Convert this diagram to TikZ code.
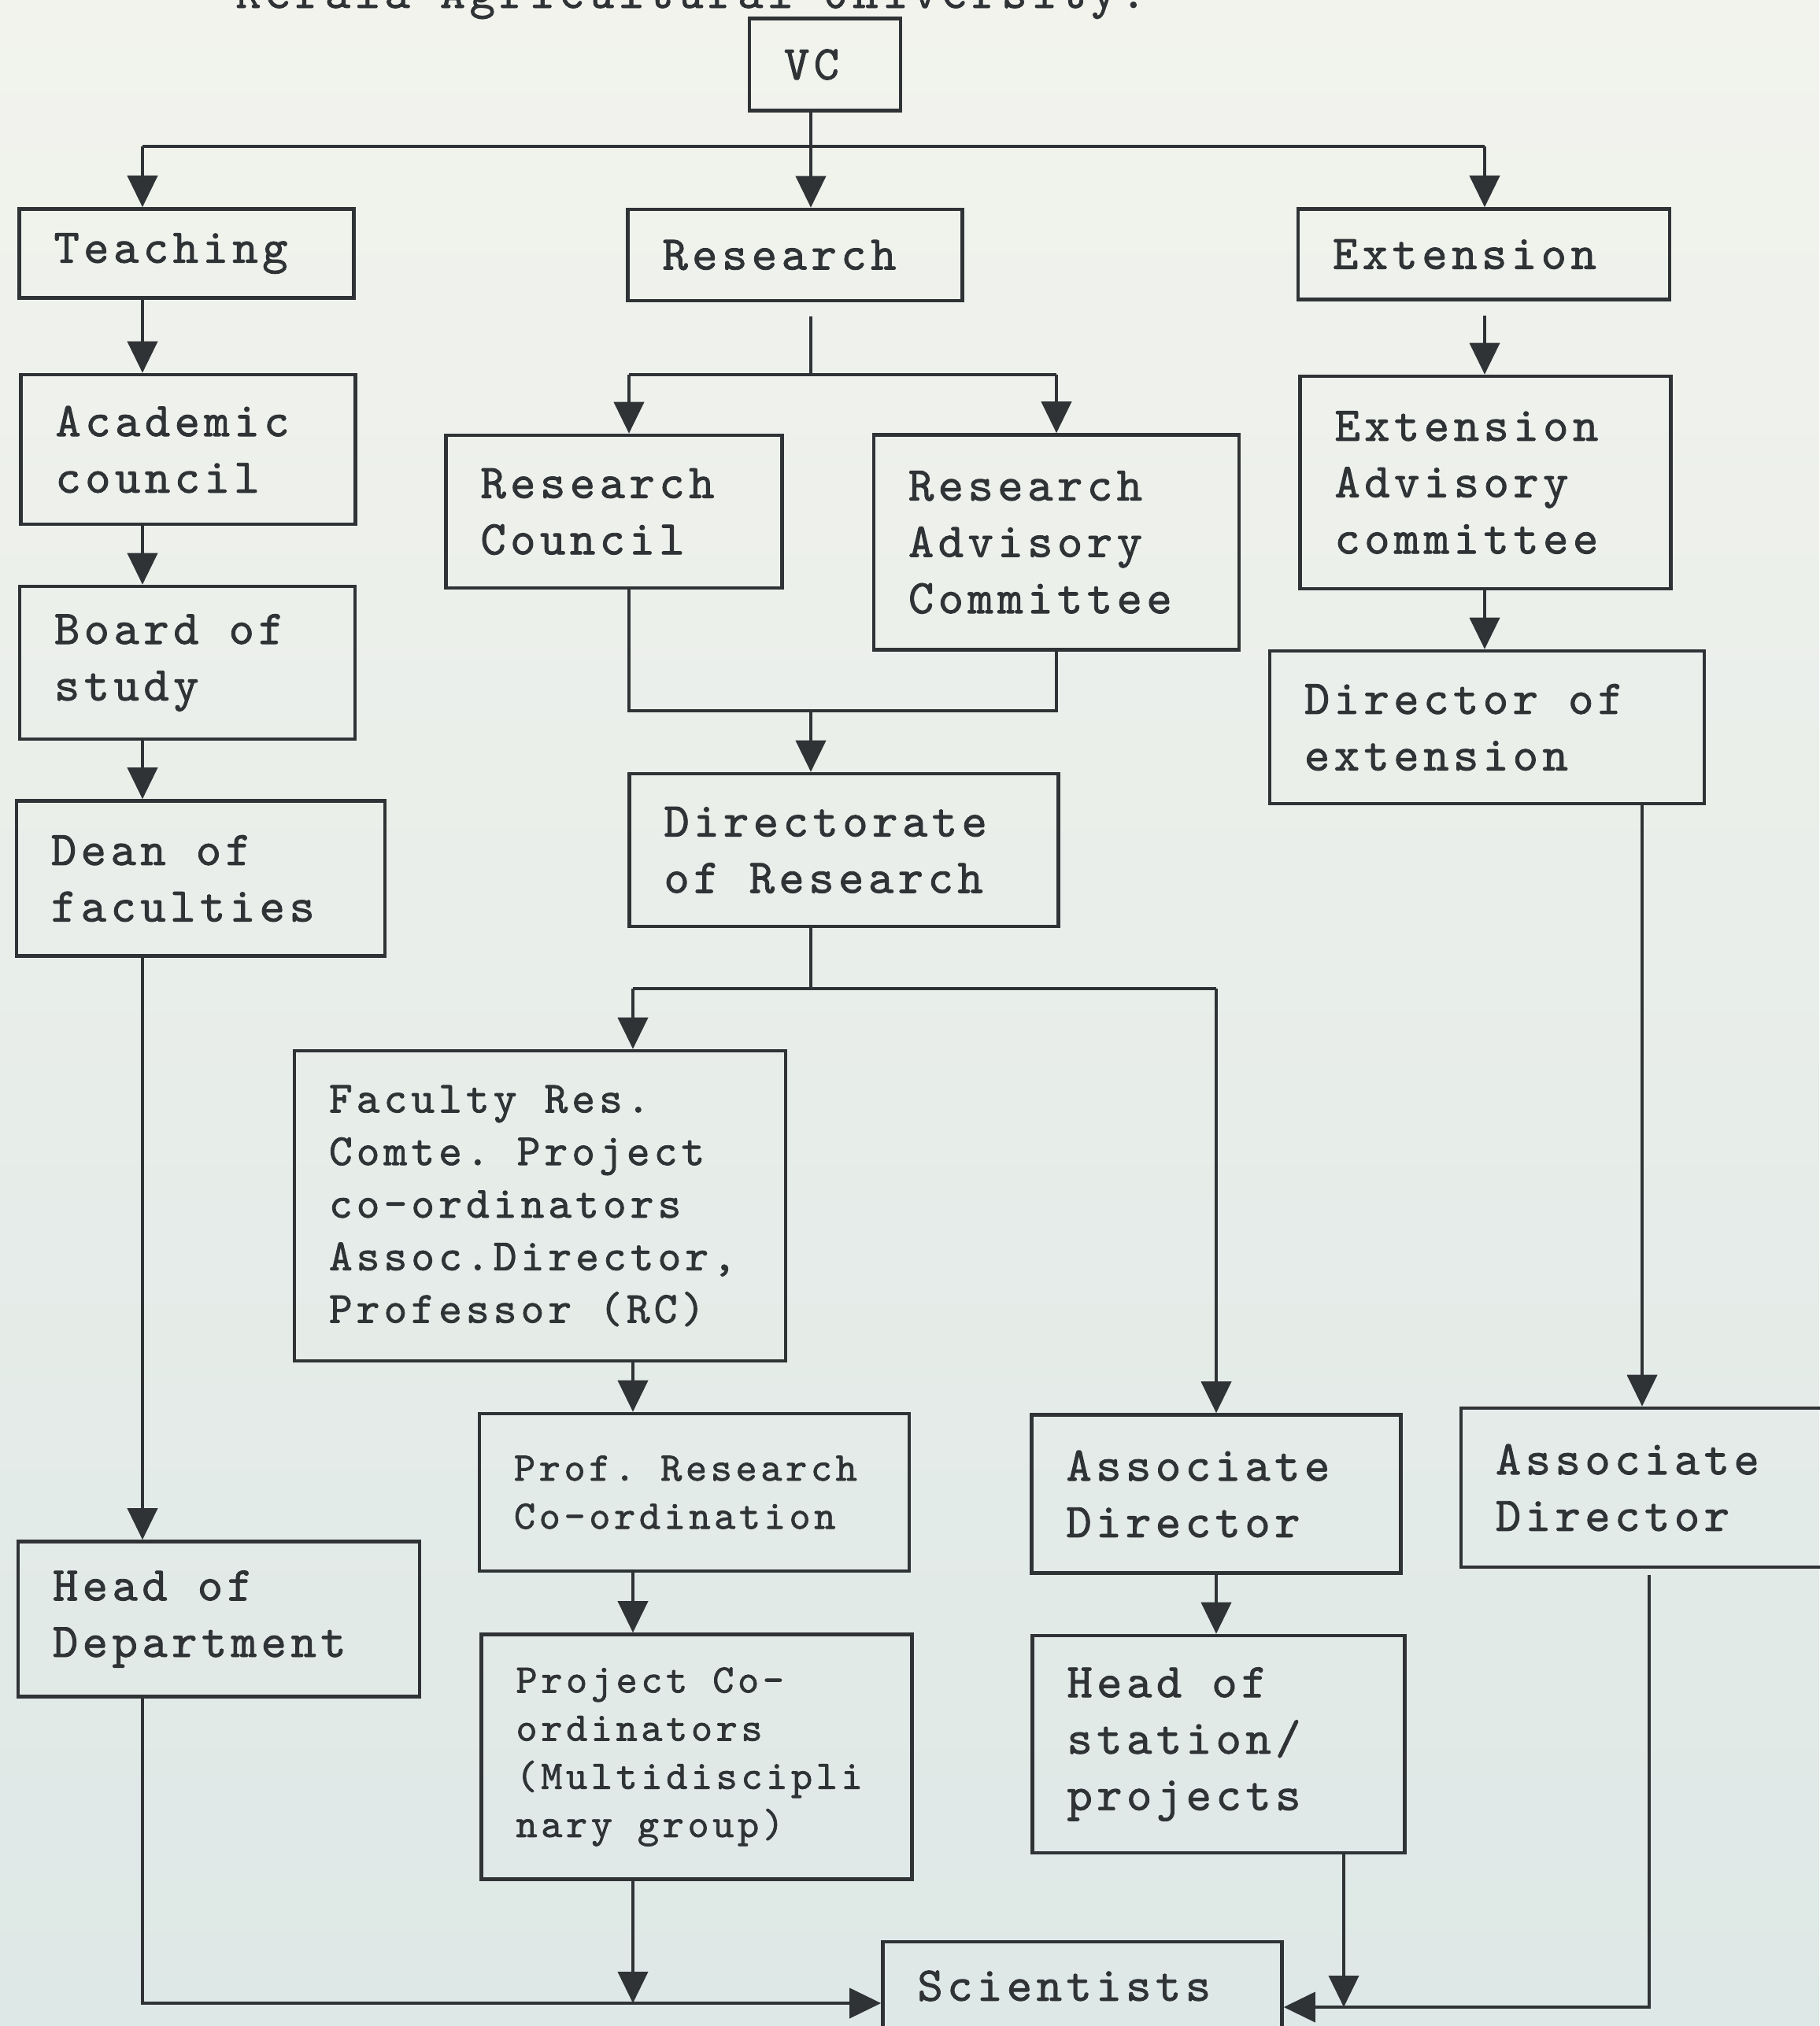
\documentclass[tikz,border=0pt]{standalone}
\usepackage{fontspec}
\newfontfamily\kauMono{lmmono10-regular.otf}[LetterSpace=9,FakeBold=1.4]
\newcommand\kauSp{\kern0.62em\relax}
\usetikzlibrary{arrows.meta}
\definecolor{kauInk}{RGB}{48,51,54}
\definecolor{kauPaperTop}{RGB}{242,243,237}
\definecolor{kauPaperBot}{RGB}{222,232,230}

\begin{document}
\begin{tikzpicture}
\tikzset{
    kauBox/.style={draw=kauInk,line width=1.3pt,rectangle,inner xsep=0.44cm,inner ysep=0pt,
        align=left,text=kauInk,font=\kauMono\fontsize{17.5}{20.4}\selectfont},
    kauSmall/.style={font=\kauMono\fontsize{16.1}{19}\selectfont},
    kauTiny/.style={font=\kauMono\fontsize{14.7}{17.4}\selectfont},
    kauLine/.style={draw=kauInk,line width=1.1pt},
    kauArrow/.style={kauLine,-{Triangle[length=0.40cm,width=0.38cm]}}
}
% paper
\shade[top color=kauPaperTop,bottom color=kauPaperBot] (0,0) rectangle (23.11,-25.74);
\useasboundingbox (0,0) rectangle (23.11,-25.74);

\node[anchor=base west,text=kauInk,font=\kauMono\fontsize{17.5}{20}\selectfont] (kauTitle) at (2.87,-0.10)
    {Kerala\kauSp Agricultural\kauSp University.};

% columns and rows of the connectors
\coordinate (colT) at (1.81,0);    % teaching
\coordinate (colR) at (10.30,0);   % research stem
\coordinate (colRC) at (7.99,0);   % research council
\coordinate (colRAC) at (13.42,0); % advisory committee
\coordinate (colF) at (8.04,0);    % faculty chain
\coordinate (colA) at (15.45,0);   % associate director
\coordinate (colH) at (17.07,0);   % head of station
\coordinate (colE) at (18.86,0);   % extension
\coordinate (colD) at (20.86,0);   % director of extension
\coordinate (colD2) at (20.95,0);  % right associate director
\coordinate (rowVC) at (0,-1.86);
\coordinate (rowRes) at (0,-4.76);
\coordinate (rowMerge) at (0,-9.03);
\coordinate (rowDir) at (0,-12.56);
\coordinate (rowBotL) at (0,-25.45);
\coordinate (rowBotR) at (0,-25.50);

% boxes
\node[kauBox,text width=1.04cm,minimum height=1.17cm] (VC) at (10.48,-0.82) {VC};
\node[kauBox,text width=3.37cm,minimum height=1.13cm] (Teaching) at (2.37,-3.22) {Teaching};
\node[kauBox,text width=3.37cm,minimum height=1.16cm] (Research) at (10.10,-3.24) {Research};
\node[kauBox,text width=3.84cm,minimum height=1.15cm] (Extension) at (18.85,-3.23) {Extension};
\node[kauBox,text width=3.37cm,minimum height=1.90cm] (Academic) at (2.39,-5.71) {Academic\\council};
\node[kauBox,text width=3.39cm,minimum height=1.94cm] (RC) at (7.80,-6.50) {Research\\Council};
\node[kauBox,text width=3.76cm,minimum height=2.73cm] (RAC) at (13.42,-6.89) {Research\\Advisory\\Committee};
\node[kauBox,text width=3.83cm,minimum height=2.70cm] (EAC) at (18.87,-6.13) {Extension\\Advisory\\committee};
\node[kauBox,text width=3.38cm,minimum height=1.94cm] (Board) at (2.38,-8.42) {Board\kauSp of\\study};
\node[kauBox,text width=4.64cm,minimum height=1.94cm] (DirExt) at (18.89,-9.24) {Director\kauSp of\\extension};
\node[kauBox,text width=3.80cm,minimum height=1.97cm] (Dean) at (2.55,-11.16) {Dean\kauSp of\\faculties};
\node[kauBox,text width=4.57cm,minimum height=1.94cm] (Directorate) at (10.72,-10.80) {Directorate\\of\kauSp Research};
\node[kauBox,kauSmall,text width=5.36cm,minimum height=3.94cm] (Faculty) at (6.86,-15.32)
    {Faculty\kauSp Res.\\Comte.\kauSp Project\\co-ordinators\\Assoc.Director,\\Professor\kauSp (RC)};
\node[kauBox,kauTiny,text width=4.58cm,minimum height=2.00cm] (Prof) at (8.82,-18.96) {Prof.\kauSp Research\\Co-ordination};
\node[kauBox,text width=3.81cm,minimum height=2.01cm] (AssocMid) at (15.45,-18.98) {Associate\\Director};
\node[kauBox,text width=3.96cm,minimum height=2.02cm] (AssocRight) at (20.98,-18.90) {Associate\\Director};
\node[kauBox,text width=4.22cm,minimum height=1.97cm] (HoD) at (2.78,-20.57) {Head\kauSp of\\Department};
\node[kauBox,kauTiny,text width=4.59cm,minimum height=3.11cm] (Project) at (8.85,-22.32)
    {Project\kauSp Co-\\ordinators\\(Multidiscipli\\nary\kauSp group)};
\node[kauBox,text width=3.85cm,minimum height=2.76cm] (HeadStation) at (15.48,-22.16) {Head\kauSp of\\station/\\projects};
\node[kauBox,text width=4.19cm,minimum height=1.12cm] (Scientists) at (13.75,-25.23) {Scientists};

% VC to the three wings
\draw[kauLine] (VC.south -| colR) -- (colR |- rowVC);
\draw[kauLine] (colT |- rowVC) -- (colE |- rowVC);
\draw[kauArrow] (colT |- rowVC) -- (Teaching.north -| colT);
\draw[kauArrow] (colR |- rowVC) -- (Research.north -| colR);
\draw[kauArrow] (colE |- rowVC) -- (Extension.north -| colE);

% teaching wing
\draw[kauArrow] (Teaching.south -| colT) -- (Academic.north -| colT);
\draw[kauArrow] (Academic.south -| colT) -- (Board.north -| colT);
\draw[kauArrow] (Board.south -| colT) -- (Dean.north -| colT);
\draw[kauArrow] (Dean.south -| colT) -- (HoD.north -| colT);

% research wing
\draw[kauLine,shorten <=0.18cm] (Research.south -| colR) -- (colR |- rowRes);
\draw[kauLine] (colRC |- rowRes) -- (colRAC |- rowRes);
\draw[kauArrow] (colRC |- rowRes) -- (RC.north -| colRC);
\draw[kauArrow] (colRAC |- rowRes) -- (RAC.north -| colRAC);
\draw[kauLine] (RC.south -| colRC) -- (colRC |- rowMerge) -- (colRAC |- rowMerge) -- (RAC.south -| colRAC);
\draw[kauArrow] (colR |- rowMerge) -- (Directorate.north -| colR);
\draw[kauLine] (Directorate.south -| colR) -- (colR |- rowDir);
\draw[kauLine] (colF |- rowDir) -- (colA |- rowDir);
\draw[kauArrow] (colF |- rowDir) -- (Faculty.north -| colF);
\draw[kauArrow] (colA |- rowDir) -- (AssocMid.north -| colA);
\draw[kauArrow] (Faculty.south -| colF) -- (Prof.north -| colF);
\draw[kauArrow] (Prof.south -| colF) -- (Project.north -| colF);
\draw[kauArrow] (AssocMid.south -| colA) -- (HeadStation.north -| colA);

% extension wing
\draw[kauArrow,shorten <=0.18cm] (Extension.south -| colE) -- (EAC.north -| colE);
\draw[kauArrow] (EAC.south -| colE) -- (DirExt.north -| colE);
\draw[kauArrow] (DirExt.south -| colD) -- (AssocRight.north -| colD);

% down to the scientists
\draw[kauArrow] (HoD.south -| colT) -- (colT |- rowBotL) -- (Scientists.west |- rowBotL);
\draw[kauArrow] (Project.south -| colF) -- (colF |- rowBotL);
\draw[kauArrow] (HeadStation.south -| colH) -- (colH |- rowBotR);
\draw[kauArrow,shorten <=0.08cm] (AssocRight.south -| colD2) -- (colD2 |- rowBotR) -- (Scientists.east |- rowBotR);
\end{tikzpicture}
\end{document}
